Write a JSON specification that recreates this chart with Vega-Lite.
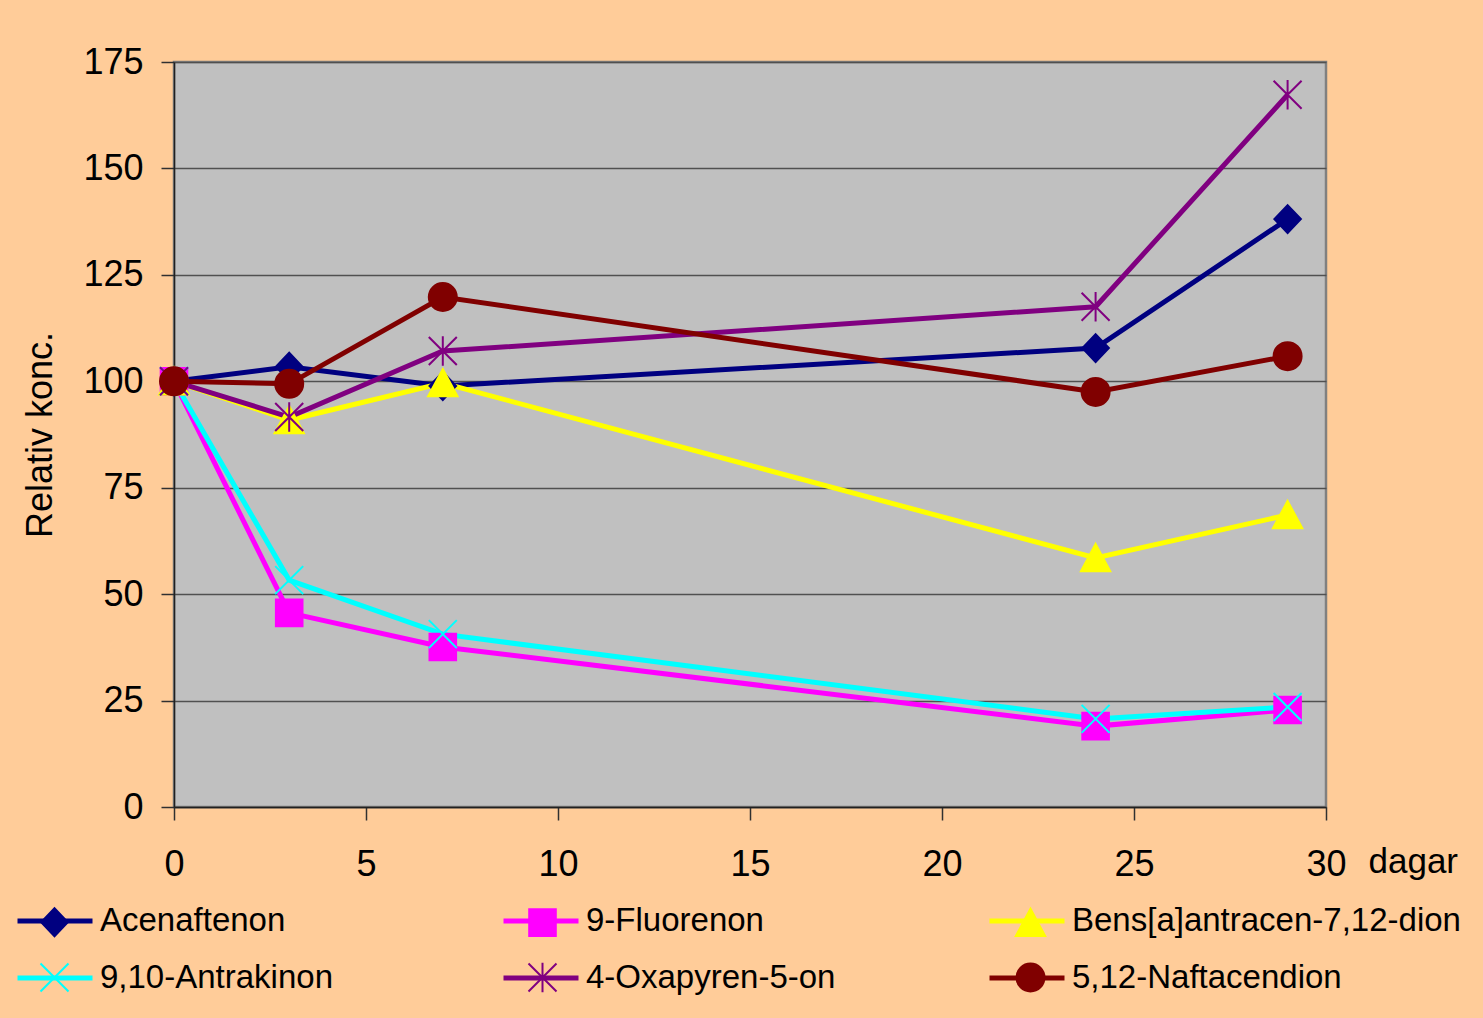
{
  "$schema": "https://vega.github.io/schema/vega-lite/v6.json",
  "width": 1152,
  "height": 745,
  "autosize": {"type": "none"},
  "padding": {"left": 174, "top": 62, "right": 157, "bottom": 211},
  "background": "#FFCC99",
  "config": {
    "font": "Liberation Sans",
    "view": {"fill": "#C0C0C0", "stroke": "#808080", "strokeWidth": 2.5}
  },
  "data": {
    "values": [
      {"serie": "Acenaftenon", "nr": 1, "dag": 0, "v": 100},
      {"serie": "Acenaftenon", "nr": 1, "dag": 3, "v": 103.4},
      {"serie": "Acenaftenon", "nr": 1, "dag": 7, "v": 98.9},
      {"serie": "Acenaftenon", "nr": 1, "dag": 24, "v": 107.8},
      {"serie": "Acenaftenon", "nr": 1, "dag": 29, "v": 138.1},
      {"serie": "9-Fluorenon", "nr": 2, "dag": 0, "v": 100},
      {"serie": "9-Fluorenon", "nr": 2, "dag": 3, "v": 45.6},
      {"serie": "9-Fluorenon", "nr": 2, "dag": 7, "v": 37.6},
      {"serie": "9-Fluorenon", "nr": 2, "dag": 24, "v": 19.0},
      {"serie": "9-Fluorenon", "nr": 2, "dag": 29, "v": 22.8},
      {"serie": "Bens[a]antracen-7,12-dion", "nr": 3, "dag": 0, "v": 100},
      {"serie": "Bens[a]antracen-7,12-dion", "nr": 3, "dag": 3, "v": 90.9},
      {"serie": "Bens[a]antracen-7,12-dion", "nr": 3, "dag": 7, "v": 99.6},
      {"serie": "Bens[a]antracen-7,12-dion", "nr": 3, "dag": 24, "v": 58.5},
      {"serie": "Bens[a]antracen-7,12-dion", "nr": 3, "dag": 29, "v": 68.6},
      {"serie": "9,10-Antrakinon", "nr": 4, "dag": 0, "v": 100},
      {"serie": "9,10-Antrakinon", "nr": 4, "dag": 3, "v": 53.3},
      {"serie": "9,10-Antrakinon", "nr": 4, "dag": 7, "v": 40.6},
      {"serie": "9,10-Antrakinon", "nr": 4, "dag": 24, "v": 20.7},
      {"serie": "9,10-Antrakinon", "nr": 4, "dag": 29, "v": 23.5},
      {"serie": "4-Oxapyren-5-on", "nr": 5, "dag": 0, "v": 100},
      {"serie": "4-Oxapyren-5-on", "nr": 5, "dag": 3, "v": 91.6},
      {"serie": "4-Oxapyren-5-on", "nr": 5, "dag": 7, "v": 107.1},
      {"serie": "4-Oxapyren-5-on", "nr": 5, "dag": 24, "v": 117.5},
      {"serie": "4-Oxapyren-5-on", "nr": 5, "dag": 29, "v": 167.3},
      {"serie": "5,12-Naftacendion", "nr": 6, "dag": 0, "v": 100},
      {"serie": "5,12-Naftacendion", "nr": 6, "dag": 3, "v": 99.4},
      {"serie": "5,12-Naftacendion", "nr": 6, "dag": 7, "v": 119.8},
      {"serie": "5,12-Naftacendion", "nr": 6, "dag": 24, "v": 97.5},
      {"serie": "5,12-Naftacendion", "nr": 6, "dag": 29, "v": 105.9}
    ]
  },
  "encoding": {
    "x": {
      "field": "dag", "type": "quantitative",
      "scale": {"domain": [0, 30], "nice": false, "zero": false},
      "axis": {
        "values": [0, 5, 10, 15, 20, 25, 30],
        "title": "dagar",
        "titleFontSize": 35, "titleFontWeight": "normal", "titleColor": "black",
        "titleAngle": 0, "titleAlign": "left", "titleBaseline": "alphabetic",
        "titleX": 1194, "titleY": 65,
        "labelFontSize": 36, "labelColor": "black", "labelPadding": 27,
        "tickSize": 13, "tickColor": "#303030", "tickWidth": 1.5,
        "domainColor": "#202020", "domainWidth": 1.5,
        "grid": false, "labelFlush": false, "labelOverlap": false
      }
    },
    "y": {
      "field": "v", "type": "quantitative",
      "scale": {"domain": [0, 175], "nice": false},
      "axis": {
        "values": [0, 25, 50, 75, 100, 125, 150, 175],
        "title": "Relativ konc.",
        "titleFontSize": 36, "titleFontWeight": "normal", "titleColor": "black",
        "titlePadding": 23,
        "labelFontSize": 36, "labelColor": "black", "labelPadding": 18,
        "tickSize": 13, "tickColor": "#303030", "tickWidth": 1.5,
        "domainColor": "#202020", "domainWidth": 1.5,
        "grid": true, "gridColor": "#505050", "gridWidth": 1.3,
        "labelFlush": false, "labelOverlap": false
      }
    }
  },
  "layer": [
    {
      "mark": {"type": "line", "strokeWidth": 5},
      "encoding": {
        "color": {
          "field": "serie", "type": "nominal",
          "scale": {
            "domain": ["Acenaftenon", "9-Fluorenon", "Bens[a]antracen-7,12-dion", "9,10-Antrakinon", "4-Oxapyren-5-on", "5,12-Naftacendion"],
            "range": ["#000080", "#FF00FF", "#FFFF00", "#00FFFF", "#800080", "#800000"]
          },
          "legend": {
            "title": null,
            "orient": "none",
            "legendX": -157,
            "legendY": 819,
            "columns": 3,
            "direction": "horizontal",
            "gridAlign": "all",
            "columnPadding": 4,
            "rowPadding": 0,
            "padding": 0,
            "labelFontSize": 33,
            "labelColor": "black",
            "labelLimit": 0,
            "symbolType": "stroke",
            "symbolSize": 5625,
            "symbolStrokeWidth": 5,
            "symbolOffset": -2,
            "labelOffset": 5
          }
        }
      }
    },
    {
      "mark": {"type": "point", "filled": true, "opacity": 1, "size": 784, "strokeWidth": 2},
      "encoding": {
        "shape": {
          "field": "nr", "type": "nominal",
          "scale": {
            "domain": [1, 2, 3, 4, 5, 6],
            "range": [
              "M-0.95,0L0,-1L0.95,0L0,1Z",
              "M-0.95,-0.95L0.95,-0.95L0.95,0.95L-0.95,0.95Z",
              "M0,-1L1.05,0.95L-1.05,0.95Z",
              "M-1,-1L1,1M-1,1L1,-1",
              "M-1,-1L1,1M-1,1L1,-1M0,-1.05L0,1.05",
              "M-1,0A1,1 0 1,0 1,0A1,1 0 1,0 -1,0Z"
            ]
          },
          "legend": {
            "title": null,
            "orient": "none",
            "legendX": -157,
            "legendY": 843,
            "columns": 3,
            "direction": "horizontal",
            "gridAlign": "all",
            "columnPadding": 15,
            "rowPadding": 17,
            "padding": 0,
            "labelFontSize": 33,
            "labelOpacity": 0,
            "labelLimit": 0,
            "labelExpr": "datum.value == 1 ? 'Acenaftenon' : datum.value == 2 ? '9-Fluorenon' : datum.value == 3 ? 'Bens[a]antracen-7,12-dion' : datum.value == 4 ? '9,10-Antrakinon' : datum.value == 5 ? '4-Oxapyren-5-on' : '5,12-Naftacendion'",
            "symbolSize": 784,
            "symbolStrokeWidth": 2,
            "symbolOffset": 21,
            "labelOffset": 30
          }
        },
        "fill": {
          "field": "nr", "type": "nominal",
          "scale": {
            "domain": [1, 2, 3, 4, 5, 6],
            "range": ["#000080", "#FF00FF", "#FFFF00", "#00FFFF", "#800080", "#800000"]
          }
        },
        "stroke": {
          "field": "nr", "type": "nominal",
          "scale": {
            "domain": [1, 2, 3, 4, 5, 6],
            "range": ["#000080", "#FF00FF", "#FFFF00", "#00FFFF", "#800080", "#800000"]
          }
        }
      }
    }
  ]
}
